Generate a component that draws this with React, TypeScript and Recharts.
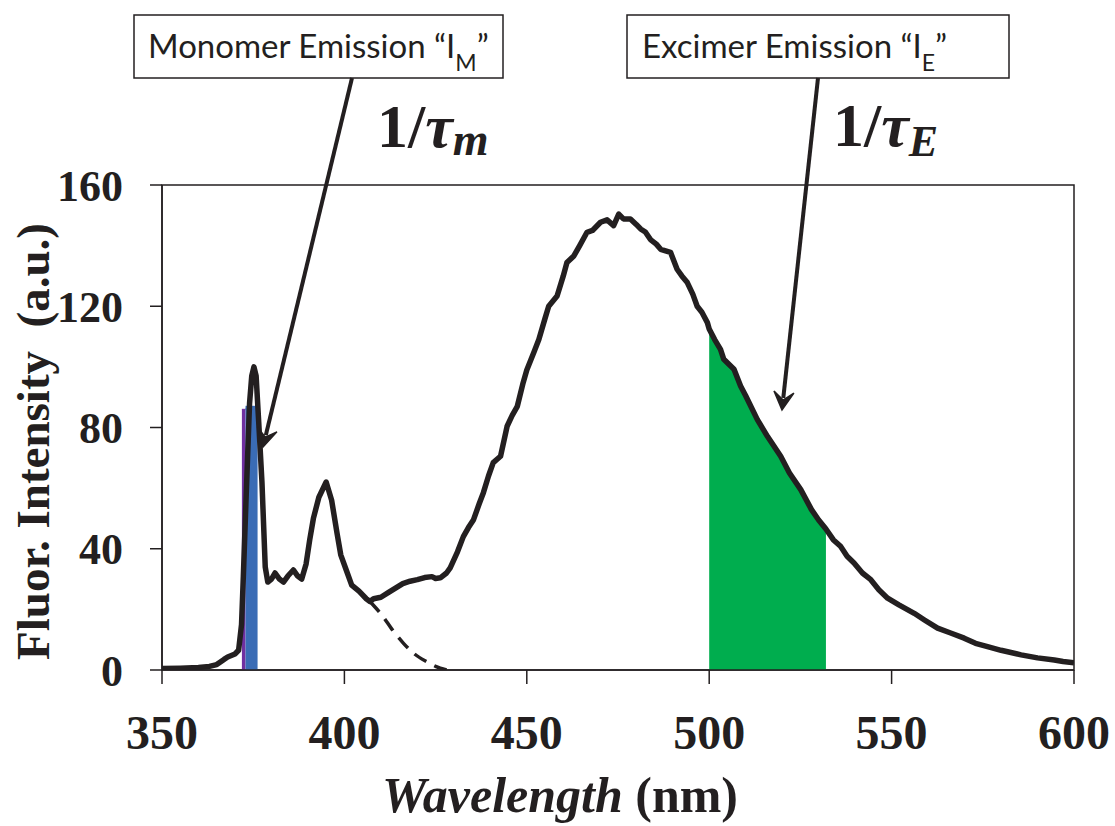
import React from "react";
import {
    ComposedChart,
    Line,
    Area,
    XAxis,
    YAxis,
    ReferenceArea
} from "recharts";

// emission spectrum
const wavelength = [
    350, 355, 360, 363, 365, 367, 368, 370, 371, 371.8, 372.3, 373, 374, 374.6, 375.2, 375.8, 376.5, 377.4, 378.3, 379,
    380, 381, 382.2, 383.3, 384.5, 386, 387.2, 388.3, 389.5, 390.5, 391.5, 393, 395, 396.5, 398, 399, 400.5, 402, 404, 406,
    407, 408, 410, 412, 414, 416, 418, 420, 422, 424, 425, 426.3, 428, 429, 431, 432.6, 434, 435.4, 437, 438.1,
    439.5, 440.8, 442.8, 444.6, 446, 447.4, 449, 450, 452, 453.3, 455, 456, 458.3, 460, 461, 462.9, 464.5, 466.5, 468, 470.2,
    472, 473.8, 475.2, 476.5, 478.4, 480, 481.2, 482.5, 483.9, 485.5, 486.7, 489.4, 491.2, 492.5, 494, 495.5, 496.7, 498, 499.5, 500,
    501.5, 503.1, 504, 506.8, 508.6, 510, 513.2, 516, 519.6, 522, 525.1, 528, 530, 532, 534, 536, 537.8, 539.7, 542, 544.3,
    546.5, 548.9, 552, 556.2, 559, 562.6, 566, 569.9, 573, 576.3, 580, 585.5, 590, 594.6, 597, 600
];
const intensity = [
    0.5, 0.6, 0.8, 1.2, 1.8, 3.5, 4.3, 5.3, 6.5, 15, 31, 55, 88, 97, 100, 97, 82, 62, 34, 29,
    30, 32, 30, 29, 31, 33, 31, 30, 35, 43, 50, 57, 62, 56, 45, 38, 33, 28, 26, 23.5,
    22.6, 23.5, 24, 25.5, 27, 28.5, 29.3, 29.8, 30.5, 30.8, 30.2, 30.4, 32, 33.7, 39, 44, 47, 49.6, 55, 58.5,
    64, 68.4, 70.5, 80.4, 84, 87, 94.8, 99, 105, 109, 116, 120, 123.4, 130, 134.4, 136.6, 140, 144.4, 145, 147.7,
    148.5, 146.6, 150.4, 148.8, 148.8, 147, 145.5, 144.5, 142, 140.5, 138.8, 137.8, 132.2, 130, 127.8, 124, 120, 118, 114.6, 112.5,
    109, 105.8, 102.5, 99.2, 93.7, 90.5, 82.6, 77, 70.5, 65, 59.5, 53, 49.5, 46.5, 43, 40.8, 37.5, 35.3, 32, 29.8,
    26.5, 23.7, 21.5, 18.7, 16.5, 13.8, 12.3, 10.5, 8.8, 7.7, 6.5, 5, 4, 3.3, 2.8, 2.4
];

// extrapolated monomer tail (dashed)
const tailNm = [407, 410.6, 413, 416.2, 419, 422.6, 425, 428];
const tailValue = [22.6, 17.6, 13.5, 8.8, 5.5, 2.7, 1.2, 0];

// shaded bands
const monomerNm = [372.9, 376.2];
const monomerTop = [86.5, 86.5];
const purpleNm = [371.9, 372.9];
const purpleTop = [86, 86];
const excimerFrom = 500;
const excimerTo = 532;

const xTicks = [350, 400, 450, 500, 550, 600];
const yTicks = [0, 40, 80, 120, 160];

const ink = "#231f20";

const spectrum = wavelength.map((nm, i) => ({ nm, v: intensity[i] }));
const excimerBand = spectrum.filter(d => d.nm >= excimerFrom && d.nm <= excimerTo);
const tail = tailNm.map((nm, i) => ({ nm, v: tailValue[i] }));
const monomerBand = monomerNm.map((nm, i) => ({ nm, v: monomerTop[i] }));
const purpleBand = purpleNm.map((nm, i) => ({ nm, v: purpleTop[i] }));

const arrowPath = (x1: number, y1: number, x2: number, y2: number) => {
    const len = Math.hypot(x2 - x1, y2 - y1);
    const ux = (x2 - x1) / len, uy = (y2 - y1) / len;
    const nx = -uy, ny = ux;
    const back = 18, half = 10, notch = 10;
    const bx = x2 - ux * back, by = y2 - uy * back;
    return `M${x2},${y2} L${bx + nx * half},${by + ny * half} L${x2 - ux * notch},${y2 - uy * notch} L${bx - nx * half},${by - ny * half} Z`;
};

const Arrow = ({ x1, y1, x2, y2 }: { x1: number; y1: number; x2: number; y2: number }) => {
    const len = Math.hypot(x2 - x1, y2 - y1);
    const ex = x2 - (x2 - x1) / len * 12, ey = y2 - (y2 - y1) / len * 12;
    return (
        <g>
            <line x1={x1} y1={y1} x2={ex} y2={ey} stroke={ink} strokeWidth={4} />
            <path d={arrowPath(x1, y1, x2, y2)} fill={ink} stroke={ink} strokeWidth={1.5} strokeLinejoin="miter" />
        </g>
    );
};

const serif = "'Liberation Serif', 'Times New Roman', serif";
const sans = "Lato, 'Open Sans', sans-serif";

function Annotations() {
    return (
        <svg width={1115} height={826} style={{ position: "absolute", left: 0, top: 0, pointerEvents: "none" }}>
            <rect x={134} y={15} width={369} height={63} fill="#fff" stroke={ink} strokeWidth={1.5} />
            <text x={148} y={58} fontFamily={sans} fontSize={33} fill={ink}>
                Monomer Emission {"\u201cI"}
                <tspan fontSize={23} dy={13}>M</tspan>
                <tspan dy={-13}>{"\u201d"}</tspan>
            </text>
            <rect x={627} y={15} width={382} height={63} fill="#fff" stroke={ink} strokeWidth={1.5} />
            <text x={642} y={58} fontFamily={sans} fontSize={33} fill={ink}>
                Excimer Emission {"\u201cI"}
                <tspan fontSize={23} dy={13}>E</tspan>
                <tspan dy={-13}>{"\u201d"}</tspan>
            </text>

            <text x={377} y={147} fontFamily={serif} fontWeight="bold" fontSize={62} fill={ink}>
                1/<tspan fontStyle="italic">{"\u03c4"}</tspan>
                <tspan fontStyle="italic" fontSize={46} dy={8}>m</tspan>
            </text>
            <text x={833} y={146} fontFamily={serif} fontWeight="bold" fontSize={62} fill={ink}>
                1/<tspan fontStyle="italic">{"\u03c4"}</tspan>
                <tspan fontStyle="italic" fontSize={44} dy={10}>E</tspan>
            </text>

            <Arrow x1={352} y1={78} x2={263} y2={447} />
            <Arrow x1={818} y1={78} x2={782} y2={410} />
        </svg>
    );
}

function App() {
    const renderYLabel = (props: any) => {
        const { viewBox } = props;
        const cx = 49;
        const cy = viewBox.y + viewBox.height / 2 + 14;
        return (
            <text x={cx} y={cy} transform={`rotate(-90, ${cx}, ${cy})`} textAnchor="middle"
                  fontFamily={serif} fontWeight="bold" fontSize={47} fill={ink}>
                Fluor. Intensity{"\u00a0 "}(a.u.)
            </text>
        );
    };

    const renderXLabel = (props: any) => {
        const { viewBox } = props;
        const cx = viewBox.x + viewBox.width / 2 - 58;
        return (
            <text x={cx} y={812} textAnchor="middle" fontFamily={serif} fontWeight="bold" fontSize={50} fill={ink}>
                <tspan fontStyle="italic">Wavelength</tspan> (nm)
            </text>
        );
    };

    return (
        <div style={{ position: "absolute", left: 0, top: 0, width: 1115, height: 826, background: "#fff" }}>
            <ComposedChart
                width={1115}
                height={826}
                margin={{ top: 185, right: 41, bottom: 0, left: 0 }}
            >
                <XAxis
                    type="number"
                    dataKey="nm"
                    domain={[350, 600]}
                    ticks={xTicks}
                    allowDataOverflow
                    height={156}
                    stroke={ink}
                    strokeWidth={1.5}
                    tickSize={14}
                    tickMargin={31}
                    tick={{ fontFamily: serif, fontWeight: "bold", fontSize: 48, fill: ink }}
                    label={{ content: renderXLabel }}
                />
                <YAxis
                    type="number"
                    domain={[0, 160]}
                    ticks={yTicks}
                    allowDataOverflow
                    width={162}
                    stroke={ink}
                    strokeWidth={1.5}
                    tickSize={12}
                    tickMargin={27}
                    tick={{ fontFamily: serif, fontWeight: "bold", fontSize: 44, fill: ink }}
                    label={{ content: renderYLabel }}
                />
                <ReferenceArea x1={350} x2={600} y1={0} y2={160} fill="none" stroke={ink} strokeWidth={1.5} />

                <Area data={excimerBand} dataKey="v" type="linear" fill="#00ad4e" fillOpacity={1} stroke="#00ad4e"
                      strokeWidth={1} isAnimationActive={false} />
                <Line data={spectrum} dataKey="v" type="linear" stroke={ink} strokeWidth={5.5} dot={false}
                      strokeLinejoin="round" isAnimationActive={false} />
                <Area data={purpleBand} dataKey="v" type="linear" fill="#7030a0" fillOpacity={1} stroke="#7030a0"
                      strokeWidth={1} isAnimationActive={false} />
                <Area data={monomerBand} dataKey="v" type="linear" fill="#3a6cb5" fillOpacity={1} stroke="#3a6cb5"
                      strokeWidth={4} strokeLinejoin="round" isAnimationActive={false} />
                <Line data={tail} dataKey="v" type="monotone" stroke={ink} strokeWidth={3.5} strokeDasharray="14 9"
                      dot={false} isAnimationActive={false} />
            </ComposedChart>
            <Annotations />
        </div>
    );
}

export default App;
